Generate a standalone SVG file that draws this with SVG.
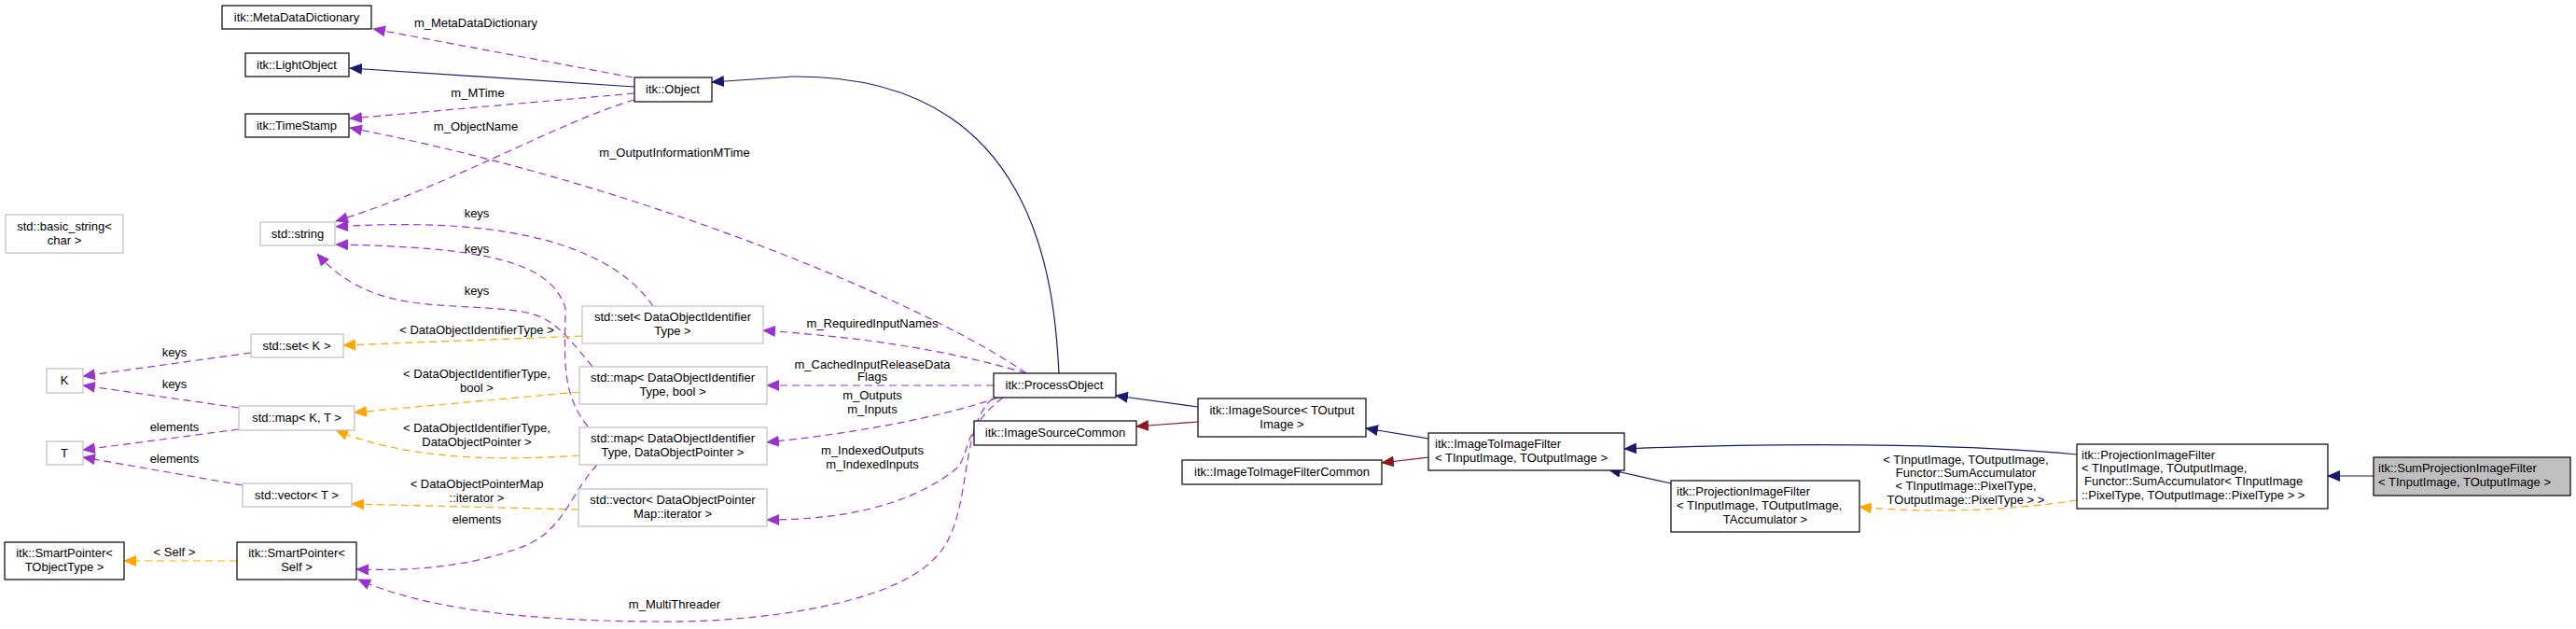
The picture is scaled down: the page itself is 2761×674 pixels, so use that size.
<svg xmlns="http://www.w3.org/2000/svg" width="2761" height="674" viewBox="0 0 2761 674">
<style>
text{font-family:"Liberation Sans",Arial,sans-serif;font-size:13px;fill:#000}
.n{fill:#fff;stroke:#000;stroke-width:1.2}
.g{fill:#fff;stroke:#bfbfbf;stroke-width:1.2}
.c{text-anchor:middle}
.e{fill:none;stroke-width:1.2}
.nv{stroke:#191970}
.dr{stroke:#8b1a1a}
.pu{stroke:#9a32cd;stroke-dasharray:8,5}
.or{stroke:#ffa500;stroke-dasharray:8,5}
</style>
<defs>
<marker id="aN" markerUnits="userSpaceOnUse" markerWidth="14" markerHeight="12" refX="13" refY="6" orient="auto"><path d="M0,0L14,6L0,12z" fill="#191970"/></marker>
<marker id="aR" markerUnits="userSpaceOnUse" markerWidth="14" markerHeight="12" refX="13" refY="6" orient="auto"><path d="M0,0L14,6L0,12z" fill="#8b1a1a"/></marker>
<marker id="aP" markerUnits="userSpaceOnUse" markerWidth="14" markerHeight="12" refX="13" refY="6" orient="auto"><path d="M0,0L14,6L0,12z" fill="#9a32cd"/></marker>
<marker id="aO" markerUnits="userSpaceOnUse" markerWidth="14" markerHeight="12" refX="13" refY="6" orient="auto"><path d="M0,0L14,6L0,12z" fill="#ffa500"/></marker>
</defs>
<g id="edges">
<path class="e pu" marker-end="url(#aP)" d="M678,83 L400,31"/>
<text class="c" x="510" y="29">m_MetaDataDictionary</text>
<path class="e nv" marker-end="url(#aN)" d="M680,93 L375,73"/>
<path class="e pu" marker-end="url(#aP)" d="M680,100 L375,127"/>
<text class="c" x="512" y="104">m_MTime</text>
<path class="e pu" marker-end="url(#aP)" d="M1100,400 C1000,330 700,200 375,137"/>
<text class="c" x="723" y="168">m_OutputInformationMTime</text>
<path class="e pu" marker-end="url(#aP)" d="M680,107 C600,130 480,200 360,237"/>
<text class="c" x="510" y="140">m_ObjectName</text>
<path class="e pu" marker-end="url(#aP)" d="M700,328 C660,270 560,230 360,243"/>
<text class="c" x="511" y="233">keys</text>
<path class="e pu" marker-end="url(#aP)" d="M630,457 C600,420 606,380 606,330 C590,280 520,265 360,262"/>
<text class="c" x="511" y="271">keys</text>
<path class="e pu" marker-end="url(#aP)" d="M635,393 C600,350 590,340 560,334 C480,322 400,340 340,272"/>
<text class="c" x="511" y="316">keys</text>
<path class="e or" marker-end="url(#aO)" d="M624,360 L368,370"/>
<text class="c" x="511" y="358">&lt; DataObjectIdentifierType &gt;</text>
<path class="e or" marker-end="url(#aO)" d="M621,420 L380,442"/>
<text class="c" x="511" y="405">&lt; DataObjectIdentifierType,</text>
<text class="c" x="511" y="420">bool &gt;</text>
<path class="e or" marker-end="url(#aO)" d="M621,488 C520,495 430,490 360,461"/>
<text class="c" x="511" y="463">&lt; DataObjectIdentifierType,</text>
<text class="c" x="511" y="478">DataObjectPointer &gt;</text>
<path class="e or" marker-end="url(#aO)" d="M620,546 L377,540"/>
<text class="c" x="511" y="523">&lt; DataObjectPointerMap</text>
<text class="c" x="511" y="538">::iterator &gt;</text>
<path class="e pu" marker-end="url(#aP)" d="M269,378 L89,403"/>
<text class="c" x="187" y="382">keys</text>
<path class="e pu" marker-end="url(#aP)" d="M256,437 L89,413"/>
<text class="c" x="187" y="416">keys</text>
<path class="e pu" marker-end="url(#aP)" d="M256,460 L89,482"/>
<text class="c" x="187" y="462">elements</text>
<path class="e pu" marker-end="url(#aP)" d="M260,520 L89,490"/>
<text class="c" x="187" y="496">elements</text>
<path class="e or" marker-end="url(#aO)" d="M254,601 L133,601"/>
<text class="c" x="187" y="596">&lt; Self &gt;</text>
<path class="e pu" marker-end="url(#aP)" d="M640,498 C610,530 605,570 557,587 C500,608 440,612 382,610"/>
<text class="c" x="511" y="561">elements</text>
<path class="e pu" marker-end="url(#aP)" d="M1064,427 C1025,460 1045,560 1000,600 C950,650 800,668 700,666 C550,665 450,650 384,621"/>
<text class="c" x="723" y="652">m_MultiThreader</text>
<path class="e pu" marker-end="url(#aP)" d="M1100,400 C1000,370 900,360 818,354"/>
<text class="c" x="935" y="351">m_RequiredInputNames</text>
<path class="e pu" marker-end="url(#aP)" d="M1065,413 L822,413"/>
<text class="c" x="935" y="395">m_CachedInputReleaseData</text>
<text class="c" x="935" y="408">Flags</text>
<path class="e pu" marker-end="url(#aP)" d="M1070,426 C1000,450 900,466 822,474"/>
<text class="c" x="935" y="428">m_Outputs</text>
<text class="c" x="935" y="443">m_Inputs</text>
<path class="e pu" marker-end="url(#aP)" d="M1075,426 C1030,460 1040,490 1024,503 C990,530 930,557 822,557"/>
<text class="c" x="935" y="487">m_IndexedOutputs</text>
<text class="c" x="935" y="502">m_IndexedInputs</text>
<path class="e nv" marker-end="url(#aN)" d="M1135,400 C1130,300 1110,80 850,82 L763,88"/>
<path class="e nv" marker-end="url(#aN)" d="M1284,436 L1196,424"/>
<path class="e dr" marker-end="url(#aR)" d="M1284,452 L1218,457"/>
<path class="e nv" marker-end="url(#aN)" d="M1531,470 L1464,459"/>
<path class="e dr" marker-end="url(#aR)" d="M1531,490 L1481,496"/>
<path class="e nv" marker-end="url(#aN)" d="M2226,487 C2100,475 1900,474 1741,481"/>
<path class="e nv" marker-end="url(#aN)" d="M1791,518 L1724,503"/>
<path class="e or" marker-end="url(#aO)" d="M2226,536 C2150,548 2060,550 1993,543"/>
<text class="c" x="2107" y="497">&lt; TInputImage, TOutputImage,</text>
<text class="c" x="2107" y="511">Functor::SumAccumulator</text>
<text class="c" x="2107" y="525">&lt; TInputImage::PixelType,</text>
<text class="c" x="2107" y="540">TOutputImage::PixelType &gt; &gt;</text>
<path class="e nv" marker-end="url(#aN)" d="M2544,510 L2495,510"/>
</g>
<g id="MetaDataDictionary"><rect class="n" x="238" y="6" width="160" height="25"/><text class="c" x="318" y="23">itk::MetaDataDictionary</text></g>
<g id="LightObject"><rect class="n" x="263" y="57" width="111" height="25"/><text class="c" x="318" y="74">itk::LightObject</text></g>
<g id="TimeStamp"><rect class="n" x="263" y="122" width="111" height="25"/><text class="c" x="318" y="139">itk::TimeStamp</text></g>
<g id="Object"><rect class="n" x="680" y="83" width="83" height="26"/><text class="c" x="721" y="100">itk::Object</text></g>
<g id="basic_string"><rect class="g" x="6" y="230" width="126" height="41"/><text class="c" x="69" y="247">std::basic_string&lt;</text><text class="c" x="69" y="262">char &gt;</text></g>
<g id="string"><rect class="g" x="279" y="238" width="80" height="25"/><text class="c" x="319" y="255">std::string</text></g>
<g id="setDOI"><rect class="g" x="624" y="328" width="194" height="40"/><text class="c" x="721" y="344">std::set&lt; DataObjectIdentifier</text><text class="c" x="721" y="359">Type &gt;</text></g>
<g id="mapDOIbool"><rect class="g" x="621" y="393" width="201" height="40"/><text class="c" x="721" y="409">std::map&lt; DataObjectIdentifier</text><text class="c" x="721" y="424">Type, bool &gt;</text></g>
<g id="mapDOIDOP"><rect class="g" x="621" y="458" width="201" height="40"/><text class="c" x="721" y="474">std::map&lt; DataObjectIdentifier</text><text class="c" x="721" y="489">Type, DataObjectPointer &gt;</text></g>
<g id="vectorDOP"><rect class="g" x="620" y="524" width="202" height="40"/><text class="c" x="721" y="540">std::vector&lt; DataObjectPointer</text><text class="c" x="721" y="555">Map::iterator &gt;</text></g>
<g id="setK"><rect class="g" x="269" y="358" width="99" height="25"/><text class="c" x="318" y="375">std::set&lt; K &gt;</text></g>
<g id="K"><rect class="g" x="50" y="395" width="39" height="26"/><text class="c" x="69" y="412">K</text></g>
<g id="mapKT"><rect class="g" x="256" y="435" width="124" height="26"/><text class="c" x="318" y="452">std::map&lt; K, T &gt;</text></g>
<g id="T"><rect class="g" x="50" y="473" width="39" height="25"/><text class="c" x="69" y="490">T</text></g>
<g id="vectorT"><rect class="g" x="260" y="518" width="117" height="25"/><text class="c" x="318" y="535">std::vector&lt; T &gt;</text></g>
<g id="SmartPointerT"><rect class="n" x="5" y="581" width="128" height="40"/><text class="c" x="69" y="597">itk::SmartPointer&lt;</text><text class="c" x="69" y="612">TObjectType &gt;</text></g>
<g id="SmartPointerSelf"><rect class="n" x="254" y="581" width="128" height="40"/><text class="c" x="318" y="597">itk::SmartPointer&lt;</text><text class="c" x="318" y="612">Self &gt;</text></g>
<g id="ProcessObject"><rect class="n" x="1065" y="400" width="131" height="26"/><text class="c" x="1130" y="417">itk::ProcessObject</text></g>
<g id="ImageSourceCommon"><rect class="n" x="1044" y="451" width="174" height="26"/><text class="c" x="1131" y="468">itk::ImageSourceCommon</text></g>
<g id="ImageSource"><rect class="n" x="1284" y="427" width="180" height="41"/><text class="c" x="1374" y="444">itk::ImageSource&lt; TOutput</text><text class="c" x="1374" y="459">Image &gt;</text></g>
<g id="ImageToImageFilterCommon"><rect class="n" x="1267" y="493" width="214" height="26"/><text class="c" x="1374" y="510">itk::ImageToImageFilterCommon</text></g>
<g id="ImageToImageFilter"><rect class="n" x="1531" y="464" width="210" height="40"/><text x="1538" y="480">itk::ImageToImageFilter</text><text x="1538" y="495">&lt; TInputImage, TOutputImage &gt;</text></g>
<g id="ProjectionAcc"><rect class="n" x="1791" y="515" width="202" height="55"/><text x="1797" y="531">itk::ProjectionImageFilter</text><text x="1797" y="546">&lt; TInputImage, TOutputImage,</text><text class="c" x="1892" y="561">TAccumulator &gt;</text></g>
<g id="ProjectionSum"><rect class="n" x="2226" y="476" width="269" height="69"/><text x="2231" y="492">itk::ProjectionImageFilter</text><text x="2231" y="506">&lt; TInputImage, TOutputImage,</text><text x="2234" y="520">Functor::SumAccumulator&lt; TInputImage</text><text x="2231" y="535">::PixelType, TOutputImage::PixelType &gt; &gt;</text></g>
<g id="SumProjection"><rect x="2544" y="490" width="211" height="41" fill="#bfbfbf" stroke="#000" stroke-width="1.2"/><text x="2549" y="506">itk::SumProjectionImageFilter</text><text x="2549" y="521">&lt; TInputImage, TOutputImage &gt;</text></g>
</svg>
